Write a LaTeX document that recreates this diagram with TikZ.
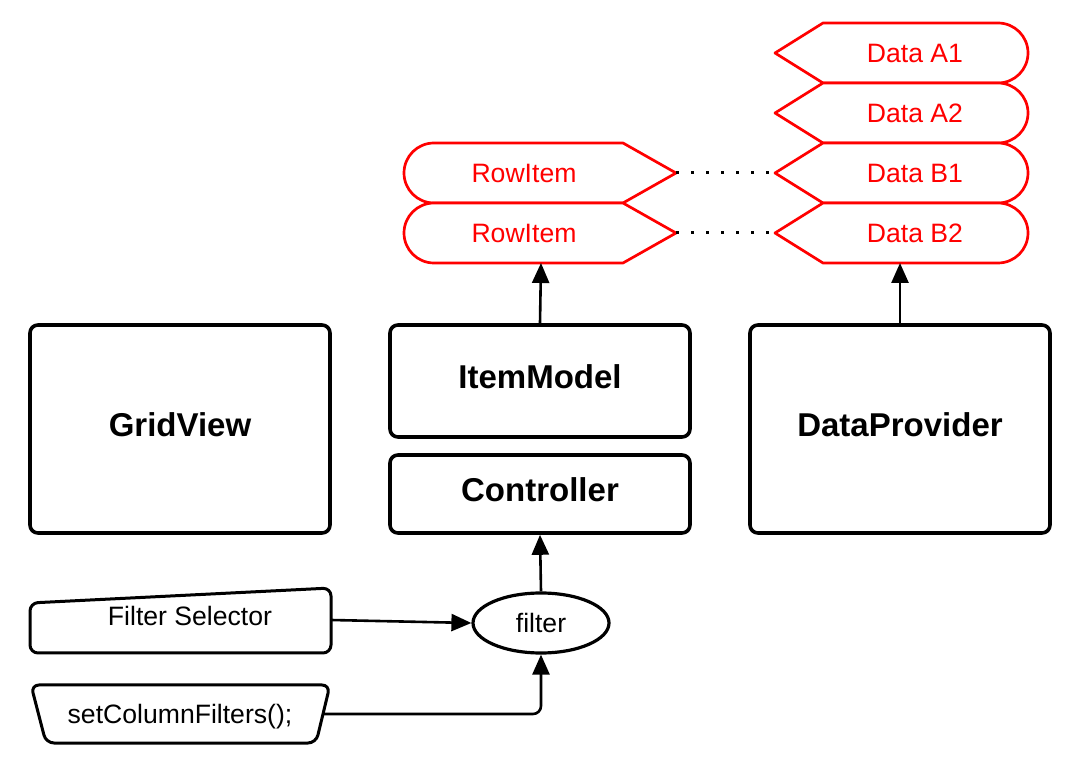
\documentclass[tikz,border=0pt]{standalone}
\usepackage{fontspec}
\setmainfont{Liberation Sans}
\usetikzlibrary{arrows.meta,shapes.geometric}
\definecolor{rred}{RGB}{255,0,0}
\tikzset{
  bigbox/.style={draw=black, line width=1.8pt, rounded corners=4pt, inner sep=0pt,
     minimum width=150pt, font=\fontsize{16.5pt}{18pt}\selectfont\bfseries,
     text height=11.8pt, text depth=4.5pt},
  plaintext/.style={inner sep=0pt, font=\fontsize{13.3pt}{15pt}\selectfont, text height=9.5pt, text depth=0pt},
  redtext/.style={plaintext, text=rred},
  redshape/.style={draw=rred, line width=1.35pt, line join=round, fill=white},
  arr/.style={draw=black, line width=1.3pt, -{Triangle[length=10pt,width=8.5pt]}},
  dots/.style={draw=black, line width=1.5pt, dash pattern=on 1.5pt off 6pt},
  inputshape/.style={draw=black, line width=1.5pt, rounded corners=4pt, line join=round},
  rowitem/.pic={
    \path[redshape] (-106,30) .. controls (-122.6,30) and (-136,16.6) .. (-136,0)
       .. controls (-136,-16.6) and (-122.6,-30) .. (-106,-30)
       -- (83,-30) -- (136,0) -- (83,30) -- cycle;
    \node[redtext] (-label) at (-16,0) {#1};
    \coordinate (-tip) at (136,0);
    \coordinate (-bot) at (1,30);
  },
  datapic/.pic={
    \path[redshape] (-125,0) -- (-77,-30) -- (98,-30)
       .. controls (114.6,-30) and (128,-16.6) .. (128,0)
       .. controls (128,16.6) and (114.6,30) .. (98,30)
       -- (-77,30) -- cycle;
    \node[redtext] (-label) at (15,0) {#1};
    \coordinate (-tip) at (-125,0);
    \coordinate (-bot) at (0,30);
  }
}
\begin{document}
\begin{tikzpicture}[x=0.5pt,y=-0.5pt]
\useasboundingbox[fill=white] (0,0) rectangle (1072,764);

% red stacks
\pic (ri1) at (540,173) {rowitem=RowItem};
\pic (ri2) at (540,233) {rowitem=RowItem};
\pic (da1) at (900,53) {datapic=Data A1};
\pic (da2) at (900,113) {datapic=Data A2};
\pic (db1) at (900,173) {datapic=Data B1};
\pic (db2) at (900,233) {datapic=Data B2};

\draw[dots] (ri1-tip) -- (db1-tip);
\draw[dots] (ri2-tip) -- (db2-tip);

% main boxes
\node[bigbox, minimum height=104pt] (grid) at (180,429) {GridView};
\node[bigbox, minimum height=56pt] (item) at (540,381) {ItemModel};
\node[bigbox, minimum height=39pt] (ctrl) at (540,494) {Controller};
\node[bigbox, minimum height=104pt] (prov) at (900,429) {DataProvider};

% filter
\node[ellipse, draw=black, line width=1.6pt, minimum width=68pt, minimum height=30pt, inner sep=0pt,
      font=\fontsize{13.3pt}{15pt}\selectfont] (filter) at (541,623) {filter};

% filter selector (manual input)
\path[inputshape] (30,603) -- (331,588) -- (331,653) -- (30,653) -- cycle;
\node[plaintext] (fsel) at (190,616) {Filter Selector};
\coordinate (fselE) at (331,620);

% setColumnFilters (manual operation)
\path[inputshape] (31,685) -- (330,685) -- (316,743) -- (46,743) -- cycle;
\node[plaintext] (scf) at (180,714) {setColumnFilters();};
\coordinate (scfE) at (323,714);

% connectors
\draw[arr] (item.north) -- (ri2-bot);
\draw[arr] (prov.north) -- (db2-bot);
\draw[arr] (filter.north) -- (ctrl.south);
\draw[arr] (fselE) -- (filter.west);
\draw[arr, rounded corners=4pt] (scfE) -| (filter.south);
\end{tikzpicture}
\end{document}
